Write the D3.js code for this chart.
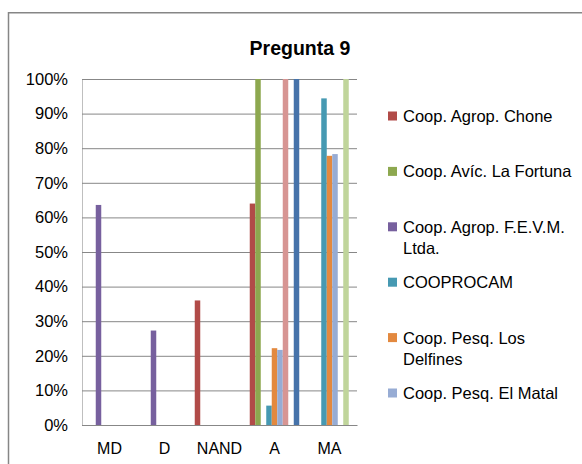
<!DOCTYPE html>
<html>
<head>
<meta charset="utf-8">
<script src="https://cdn.jsdelivr.net/npm/d3@7"></script>
<style>
  html, body { margin: 0; padding: 0; background: #fff; }
  svg { display: block; font-family: "Liberation Sans", Arial, sans-serif; }
</style>
</head>
<body>
<svg id="chart" width="582" height="464"></svg>
<script>
// ---- data ----
const title = "Pregunta 9";
const categories = ["MD", "D", "NAND", "A", "MA"];
const seriesNames = [
  "Coop. Agrop. Chone",
  "Coop. Avíc. La Fortuna",
  "Coop. Agrop. F.E.V.M. Ltda.",
  "COOPROCAM",
  "Coop. Pesq. Los Delfines",
  "Coop. Pesq. El Matal",
  "Serie 7",
  "Serie 8",
  "Serie 9"
];
const chone      = [0,     0,     0.36, 0.64,  0];
const fortuna    = [0,     0,     0,    1.00,  0];
const fevm       = [0.636, 0.273, 0,    0,     0];
const cooprocam  = [0,     0,     0,    0.056, 0.944];
const delfines   = [0,     0,     0,    0.222, 0.778];
const matal      = [0,     0,     0,    0.217, 0.783];
const serie7     = [0,     0,     0,    1.00,  0];
const serie8     = [0,     0,     0,    0,     1.00];
const serie9     = [0,     0,     0,    1.00,  0];
const seriesValues = [chone, fortuna, fevm, cooprocam, delfines, matal, serie7, serie8, serie9];
const colors = ["#B14B48", "#8DA84F", "#77609E", "#4699B2", "#E3893F", "#97ACD4", "#D79593", "#C0D59B", "#4673AA"];
const yTicks = [0, 0.1, 0.2, 0.3, 0.4, 0.5, 0.6, 0.7, 0.8, 0.9, 1.0];
const legendCount = 6; // entries visible in the legend box

// ---- layout ----
const svg = d3.select("#chart");
const plot = { left: 82, right: 357, top: 79, bottom: 425 };

// outer frame
svg.append("rect")
  .attr("x", 8.5).attr("y", 12.75)
  .attr("width", 600).attr("height", 480)
  .attr("fill", "#fff").attr("stroke", "#868686").attr("stroke-width", 1.5);

// title
svg.append("text")
  .attr("x", 300).attr("y", 55)
  .attr("text-anchor", "middle")
  .attr("font-size", 19.5).attr("font-weight", "bold")
  .attr("fill", "#000")
  .text(title);

const x0 = d3.scaleBand().domain(categories).range([plot.left, plot.right]).padding(0);
const x1 = d3.scaleBand().domain(d3.range(seriesNames.length))
  .range([0, x0.bandwidth()]).paddingInner(0).paddingOuter(0.5);
const y = d3.scaleLinear().domain([0, 1]).range([plot.bottom, plot.top]);

// gridlines
const yAxis = d3.axisLeft(y).tickValues(yTicks).tickFormat(d3.format(".0%"))
  .tickSize(-(plot.right - plot.left)).tickPadding(14);
const gy = svg.append("g").attr("transform", `translate(${plot.left},0)`).call(yAxis);
gy.select(".domain").attr("stroke", "#BFBFBF");
gy.selectAll(".tick line").attr("stroke", "#878787").attr("stroke-width", 1);
gy.selectAll(".tick text").attr("font-size", 16.5).attr("fill", "#000")
  .attr("font-family", "'Liberation Sans', Arial, sans-serif");

// bars
seriesValues.forEach((vals, si) => {
  svg.append("g").selectAll("rect")
    .data(vals.map((v, ci) => ({ v, c: categories[ci] })).filter(d => d.v > 0))
    .join("rect")
    .attr("x", d => x0(d.c) + x1(si))
    .attr("width", x1.bandwidth())
    .attr("y", d => y(d.v))
    .attr("height", d => y(0) - y(d.v))
    .attr("fill", colors[si]);
});

// x axis
const xAxis = d3.axisBottom(x0).tickSize(0).tickPadding(18);
const gx = svg.append("g").attr("transform", `translate(0,${plot.bottom})`).call(xAxis);
gx.select(".domain").attr("stroke", "#878787");
gx.selectAll(".tick text").attr("font-size", 16).attr("fill", "#000")
  .attr("font-family", "'Liberation Sans', Arial, sans-serif");

// legend
const legend = svg.append("g");
const maxW = 176;
for (let i = 0; i < legendCount; i++) {
  const ly = 116 + i * 55.4;
  legend.append("rect")
    .attr("x", 388).attr("y", ly - 4.5)
    .attr("width", 9).attr("height", 9)
    .attr("fill", colors[i]);
  const t = legend.append("text")
    .attr("x", 403).attr("y", ly + 6)
    .attr("font-size", 16.5).attr("fill", "#000");
  const words = seriesNames[i].split(" ");
  let line = [];
  let tspan = t.append("tspan").attr("x", 403).attr("dy", 0);
  words.forEach(w => {
    line.push(w);
    tspan.text(line.join(" "));
    if (tspan.node().getComputedTextLength() > maxW && line.length > 1) {
      line.pop();
      tspan.text(line.join(" "));
      line = [w];
      tspan = t.append("tspan").attr("x", 403).attr("dy", 21).text(w);
    }
  });
}
</script>
</body>
</html>
